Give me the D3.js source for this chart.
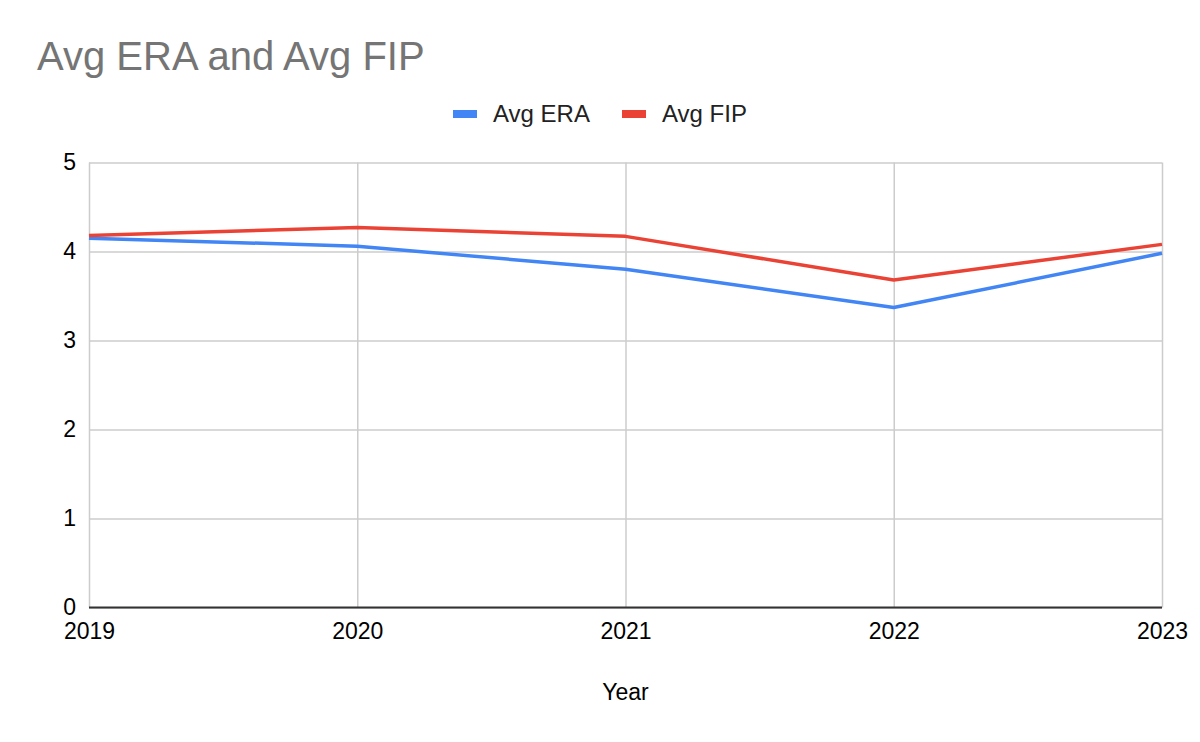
<!DOCTYPE html>
<html>
<head>
<meta charset="utf-8">
<script src="https://cdn.jsdelivr.net/npm/d3@7"></script>
<style>
  body { margin: 0; background: #fff; }
  text { font-family: "Liberation Sans", Arial, sans-serif; }
</style>
</head>
<body>
<svg width="1200" height="742"></svg>
<script>
const years = ["2019", "2020", "2021", "2022", "2023"];
const avgEra = [4.15, 4.06, 3.80, 3.37, 3.98];
const avgFip = [4.18, 4.27, 4.17, 3.68, 4.08];
const yTicks = [0, 1, 2, 3, 4, 5];

const svg = d3.select("svg");
const plotLeft = 89, plotRight = 1162, plotTop = 162.5, plotBottom = 607.5;

const x = d3.scalePoint().domain(years).range([plotLeft, plotRight]);
const y = d3.scaleLinear().domain([0, 5]).range([plotBottom, plotTop]);

// title
svg.append("text")
  .attr("x", 37).attr("y", 70)
  .attr("font-size", 40).attr("fill", "#757575")
  .text("Avg ERA and Avg FIP");

// legend
const legend = [
  { name: "Avg ERA", color: "#4285F4", x: 453 },
  { name: "Avg FIP", color: "#EA4335", x: 622 }
];
const lg = svg.append("g").selectAll("g").data(legend).enter().append("g");
lg.append("rect")
  .attr("x", d => d.x).attr("y", 110)
  .attr("width", 24).attr("height", 8)
  .attr("fill", d => d.color);
lg.append("text")
  .attr("x", d => d.x + 40).attr("y", 122)
  .attr("font-size", 24).attr("fill", "#222")
  .text(d => d.name);

// gridlines
svg.append("g")
  .attr("transform", `translate(${plotLeft},0)`)
  .call(d3.axisLeft(y).tickValues(yTicks).tickSize(-(plotRight - plotLeft)).tickFormat(""))
  .call(g => g.select(".domain").remove())
  .call(g => g.selectAll("line").attr("stroke", "#cccccc").attr("stroke-width", 1.5));

svg.append("g")
  .attr("transform", `translate(0,${plotBottom})`)
  .call(d3.axisBottom(x).tickSize(-(plotBottom - plotTop)).tickFormat(""))
  .call(g => g.select(".domain").remove())
  .call(g => g.selectAll("line").attr("stroke", "#cccccc").attr("stroke-width", 1.5));

// y labels
svg.append("g")
  .attr("transform", `translate(${plotLeft},0)`)
  .call(d3.axisLeft(y).tickValues(yTicks).tickFormat(d3.format("d")).tickSize(0).tickPadding(13))
  .call(g => g.select(".domain").remove())
  .call(g => g.selectAll("text").attr("font-size", 23).attr("fill", "#000")
    .attr("font-family", "Liberation Sans, Arial, sans-serif"));

// x labels
svg.append("g")
  .attr("transform", `translate(0,${plotBottom})`)
  .call(d3.axisBottom(x).tickSize(0).tickPadding(15))
  .call(g => g.select(".domain").remove())
  .call(g => g.selectAll("text").attr("font-size", 23).attr("fill", "#000")
    .attr("font-family", "Liberation Sans, Arial, sans-serif"));

// baseline
svg.append("line")
  .attr("x1", plotLeft).attr("x2", plotRight)
  .attr("y1", y(0)).attr("y2", y(0))
  .attr("stroke", "#333").attr("stroke-width", 2);

// series
const line = d3.line().x((d, i) => x(years[i])).y(d => y(d));
[[avgEra, "#4285F4"], [avgFip, "#EA4335"]].forEach(([vals, color]) => {
  svg.append("path")
    .datum(vals)
    .attr("d", line)
    .attr("fill", "none")
    .attr("stroke", color)
    .attr("stroke-width", 3.5)
    .attr("stroke-linejoin", "round");
});

// axis title
svg.append("text")
  .attr("x", (plotLeft + plotRight) / 2).attr("y", 700)
  .attr("text-anchor", "middle")
  .attr("font-size", 23).attr("fill", "#000")
  .text("Year");
</script>
</body>
</html>
